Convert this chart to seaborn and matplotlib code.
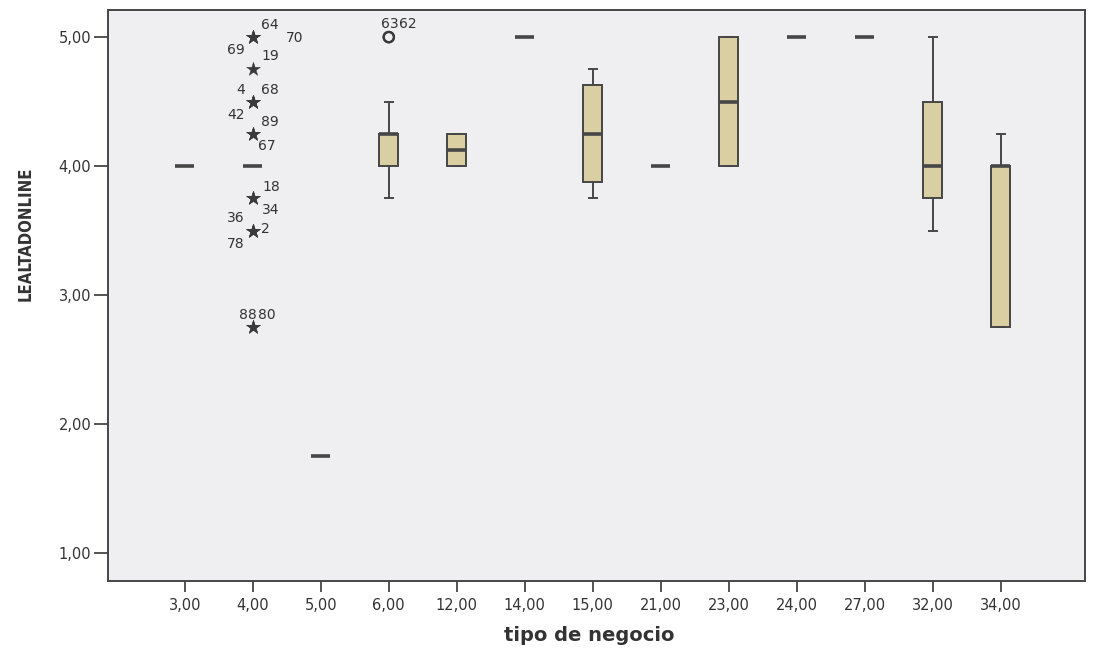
import numpy as np
import pandas as pd
import matplotlib
matplotlib.use("Agg")
import matplotlib.pyplot as plt
from matplotlib import font_manager as fm
import seaborn as sns

# ---------------- data ----------------
tipo_codes = [3, 4, 5, 6, 12, 14, 15, 21, 23, 24, 27, 32, 34]
tick_labels = ["3,00", "4,00", "5,00", "6,00", "12,00", "14,00", "15,00",
               "21,00", "23,00", "24,00", "27,00", "32,00", "34,00"]
y_ticks = [1, 2, 3, 4, 5]
y_tick_labels = ["1,00", "2,00", "3,00", "4,00", "5,00"]

# LEALTADONLINE values (non-outlying cases) per tipo de negocio
core_3 = [4.0]
core_4 = [4.0] * 24
core_5 = [1.75]
core_6 = [3.75, 4.0, 4.0, 4.0, 4.25, 4.25, 4.25, 4.25, 4.25, 4.25, 4.5]
core_12 = [4.0, 4.0, 4.25, 4.25]
core_14 = [5.0]
core_15 = [3.75, 3.75, 4.0, 4.25, 4.5, 4.75, 4.75]
core_21 = [4.0]
core_23 = [4.0, 4.0, 4.5, 5.0, 5.0]
core_24 = [5.0]
core_27 = [5.0]
core_32 = [3.5, 3.75, 3.75, 3.75, 4.0, 4.25, 4.5, 4.75, 5.0]
core_34 = [2.75, 2.75, 4.0, 4.0, 4.25]

# outlying cases (case numbers as labelled in the chart)
out_tipo = [4, 4, 4, 4, 4, 4, 4, 4, 4, 4, 4, 4, 4, 4, 4, 4, 6, 6]
out_value = [5.0, 5.0, 5.0, 4.75, 4.5, 4.5, 4.5, 4.25, 4.25,
             3.75, 3.75, 3.5, 3.5, 3.5, 2.75, 2.75, 5.0, 5.0]
out_case = ["64", "70", "69", "19", "4", "68", "42", "89", "67",
            "18", "34", "36", "2", "78", "88", "80", "63", "62"]

# label placement (offset pixels from marker) -- layout only
label_offsets = [(17, 12), (42, -1), (-17, -13), (17, 13), (-12, 12), (17, 12),
                 (-17, -13), (17, 12), (14, -12), (18, 11), (18, -12), (-17, 13),
                 (13, 2), (-17, -13), (-5, 12), (14, 12), (1, 13), (19, 13)]

core = {3: core_3, 4: core_4, 5: core_5, 6: core_6, 12: core_12, 14: core_14,
        15: core_15, 21: core_21, 23: core_23, 24: core_24, 27: core_27,
        32: core_32, 34: core_34}

rows = [(t, v) for t in tipo_codes for v in core[t]]
rows += list(zip(out_tipo, out_value))
df = pd.DataFrame(rows, columns=["tipo", "LEALTADONLINE"])

# ---------------- style ----------------
FILL = "#d9cfa3"
EDGE = "#464646"
TXT = "#333333"

fig = plt.figure(figsize=(10.93, 6.55), dpi=100)
fig.patch.set_facecolor("white")
ax = fig.add_axes([108 / 1093, 1 - 581 / 655, 977 / 1093, 571 / 655])
ax.set_facecolor("#efeff2")

sns.boxplot(data=df, x="tipo", y="LEALTADONLINE", order=tipo_codes, ax=ax,
            color=FILL, saturation=1, width=0.28, whis=1.5, showfliers=False,
            linecolor=EDGE, linewidth=1.4,
            medianprops=dict(color=EDGE, linewidth=2.6),
            capwidths=0.12)

# outliers: 'o' (1.5-3 IQR) and '*' (> 3 IQR), computed from the data
pos, kinds = [], []
for t, v in zip(out_tipo, out_value):
    vals = df.loc[df.tipo == t, "LEALTADONLINE"].to_numpy()
    q1, q3 = np.percentile(vals, [25, 75])
    iqr = q3 - q1
    kinds.append("extreme" if (v > q3 + 3 * iqr or v < q1 - 3 * iqr) else "mild")
    pos.append(tipo_codes.index(t))
odf = pd.DataFrame({"pos": pos, "value": out_value, "kind": kinds, "case": out_case})

ext = odf[odf.kind == "extreme"]
mild = odf[odf.kind == "mild"]
sns.scatterplot(data=ext, x="pos", y="value", marker="*", s=110, color="#3a3a3a",
                edgecolor="#3a3a3a", linewidth=0.3, ax=ax, zorder=5, legend=False)
sns.scatterplot(data=mild, x="pos", y="value", marker="o", s=55, facecolor="none",
                edgecolor="#3a3a3a", linewidth=1.6, ax=ax, zorder=5, legend=False)

for (p, v, c), (dx, dy) in zip(zip(odf.pos, odf.value, odf.case), label_offsets):
    ax.annotate(c, xy=(p, v), xytext=(dx, dy), textcoords="offset pixels",
                ha="center", va="center", fontsize=10, color=TXT)

# ---------------- axes ----------------
ax.set_xlim(-1.13, 13.24)
ax.set_ylim(0.785, 5.21)
ax.set_xticks(range(len(tipo_codes)))
ax.set_xticklabels(tick_labels)
ax.set_yticks(y_ticks)
ax.set_yticklabels(y_tick_labels)

for s in ax.spines.values():
    s.set_visible(True)
    s.set_color(EDGE)
    s.set_linewidth(1.4)

ax.tick_params(axis="y", length=10, width=1.3, color=EDGE, pad=2,
               labelsize=10.5, labelcolor=TXT)
ax.tick_params(axis="x", length=8, width=1.3, color=EDGE, pad=4,
               labelsize=10.5, labelcolor=TXT)

# narrow bold face for the vertical title if one is installed
names = {f.name for f in fm.fontManager.ttflist}
narrow = [n for n in ["Liberation Sans Narrow", "Arial Narrow"] if n in names]
ax.set_ylabel("LEALTADONLINE", fontsize=13 if narrow else 12, fontweight="bold",
              color=TXT, family=narrow + ["DejaVu Sans"], fontstretch="condensed")
ax.yaxis.set_label_coords(-0.075, 0.608)
ax.set_xlabel("tipo de negocio", fontsize=14, fontweight="bold", color=TXT)
ax.xaxis.set_label_coords(0.493, -0.079)

fig.savefig("out.png", dpi=100)
